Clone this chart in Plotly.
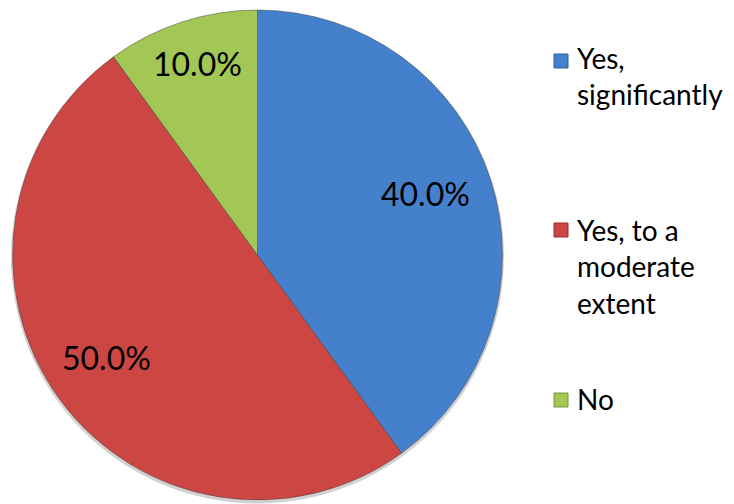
import math
import plotly.graph_objects as go

# Survey answers and their shares
labels = ["Yes, significantly", "Yes, to a moderate extent", "No"]
legend_text = ["Yes,<br>significantly", "Yes, to a<br>moderate<br>extent", "No"]
values = [40.0, 50.0, 10.0]
colors = ["#4580CC", "#CC4643", "#A3C754"]
border_colors = ["#2E5F9E", "#9A2F2D", "#76963A"]

W, H = 734, 504
FONT = "Lato, 'Open Sans', sans-serif"

# Pie placement (pixels)
cx, cy, r = 257.5, 255.0, 245.0


def domain(cxp, cyp, rad):
    return dict(x=[(cxp - rad) / W, (cxp + rad) / W],
                y=[1 - (cyp + rad) / H, 1 - (cyp - rad) / H])


fig = go.Figure()

# soft drop shadow under the pie
fig.add_trace(go.Pie(
    values=[1], labels=["shadow"], sort=False, textinfo="none", hoverinfo="skip",
    marker=dict(colors=["rgba(0,0,0,0.18)"], line=dict(width=0)),
    domain=domain(cx, cy + 2, r + 1.5), showlegend=False,
))

fig.add_trace(go.Pie(
    labels=labels,
    values=values,
    sort=False,
    direction="clockwise",
    rotation=0,
    textinfo="none",
    hoverinfo="label+percent",
    marker=dict(colors=colors, line=dict(color="rgba(60,60,60,0.45)", width=1)),
    domain=domain(cx, cy, r),
    showlegend=False,
))

# Percentage labels placed along each slice's bisector
label_radius = [0.72, 0.76, 0.79]
total = sum(values)
start = 0.0
annotations = []
for v, fr in zip(values, label_radius):
    mid = (start + v / 2) / total * 2 * math.pi
    start += v
    px = cx + fr * r * math.sin(mid)
    py = cy - fr * r * math.cos(mid) - 7
    annotations.append(dict(
        x=px / W, y=1 - py / H, xref="paper", yref="paper",
        text=f"{v / total * 100:.1f}%", showarrow=False,
        font=dict(family=FONT, size=32, color="#000000"),
        xanchor="center", yanchor="middle",
    ))

# Legend drawn beside the pie: marker centre and first-line baseline (px)
marker_rows = [61, 230, 400]
text_baselines = [70, 242, 411]
shapes = []
for txt, col, bcol, my, by in zip(legend_text, colors, border_colors,
                                   marker_rows, text_baselines):
    shapes.append(dict(
        type="rect", xref="paper", yref="paper",
        x0=554 / W, x1=568 / W, y0=1 - (my + 7) / H, y1=1 - (my - 7) / H,
        fillcolor=col, line=dict(color=bcol, width=1),
    ))
    annotations.append(dict(
        x=575 / W, y=1 - (by - 31) / H, xref="paper", yref="paper",
        text=txt, showarrow=False, align="left",
        font=dict(family=FONT, size=28, color="#000000"),
        xanchor="left", yanchor="top",
    ))

fig.update_layout(
    width=W, height=H,
    margin=dict(l=0, r=0, t=0, b=0),
    paper_bgcolor="white",
    plot_bgcolor="white",
    annotations=annotations,
    shapes=shapes,
)

fig.write_html("out.html")
